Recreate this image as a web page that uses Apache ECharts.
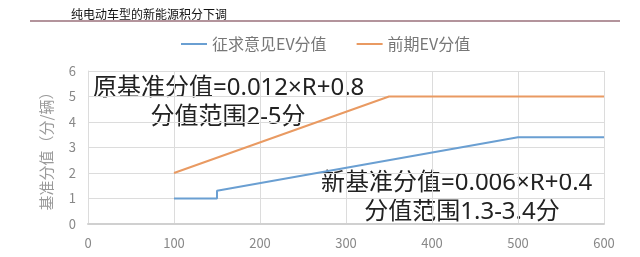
<!DOCTYPE html>
<html><head><meta charset="utf-8">
<script src="https://cdn.jsdelivr.net/npm/echarts@6/dist/echarts.min.js"></script>
<style>html,body{margin:0;padding:0;background:#fff}#c{width:640px;height:257px}</style>
</head><body><div id="c"></div>
<script>
const seriesNames = ['征求意见EV分值', '前期EV分值'];
const newX = [100, 150, 150, 500, 600];
const newY = [1, 1, 1.3, 3.4, 3.4];
const oldX = [100, 350, 600];
const oldY = [2, 5, 5];
const xTicks = [0, 100, 200, 300, 400, 500, 600];
const yTicks = [0, 1, 2, 3, 4, 5, 6];
const headerText = '纯电动车型的新能源积分下调';
const yName = '基准分值（分/辆）';
const noteOld = ['原基准分值=0.012×R+0.8', '分值范围2-5分'];
const noteNew = ['新基准分值=0.006×R+0.4', '分值范围1.3-3.4分'];

const F = '"Noto Sans CJK SC", "Noto Sans", sans-serif';
const FL = '"Noto Sans", "Noto Sans CJK SC", sans-serif';
const chart = echarts.init(document.getElementById('c'));
chart.setOption({
  animation: false,
  textStyle: { fontFamily: F },
  title: { text: headerText, left: 66, top: 3, textStyle: { fontSize: 12, fontWeight: 'normal', color: '#111', fontFamily: F } },
  legend: {
    left: 176, top: 31, itemWidth: 26, itemHeight: 2, itemGap: 30, icon: 'rect',
    textStyle: { fontSize: 16, color: '#777', fontFamily: F },
    data: seriesNames
  },
  grid: { left: 88, right: 36, top: 71, bottom: 33 },
  xAxis: {
    type: 'value', min: xTicks[0], max: xTicks[xTicks.length - 1], interval: 100,
    axisLine: { show: true, lineStyle: { color: '#d0d0d0', width: 2 } },
    axisTick: { show: false },
    axisLabel: { color: '#888', fontSize: 13, margin: 13 },
    splitLine: { show: true, lineStyle: { color: '#dcdcdc', width: 1 } }
  },
  yAxis: {
    type: 'value', min: yTicks[0], max: yTicks[yTicks.length - 1], interval: 1,
    name: yName, nameLocation: 'middle', nameGap: 34, nameRotate: 90,
    nameTextStyle: { fontSize: 15, color: '#999', fontFamily: F },
    axisLine: { show: true, lineStyle: { color: '#dcdcdc', width: 1 } },
    axisTick: { show: false },
    axisLabel: { color: '#888', fontSize: 13, margin: 12 },
    splitLine: { show: true, lineStyle: { color: '#dcdcdc', width: 1 } }
  },
  series: [
    { name: seriesNames[0], type: 'line', symbol: 'none', data: newX.map((x, i) => [x, newY[i]]),
      lineStyle: { color: '#6a9fd2', width: 2 }, itemStyle: { color: '#6a9fd2' } },
    { name: seriesNames[1], type: 'line', symbol: 'none', data: oldX.map((x, i) => [x, oldY[i]]),
      lineStyle: { color: '#e99a62', width: 2 }, itemStyle: { color: '#e99a62' } }
  ],
  graphic: [
    { type: 'line', shape: { x1: 30, y1: 21, x2: 620, y2: 21 }, style: { stroke: '#b3949c', lineWidth: 2 } },
    { type: 'text', x: 93, y: 88, style: { text: noteOld[0], font: '24px ' + FL, fill: '#222', textVerticalAlign: 'middle' } },
    { type: 'text', x: 228, y: 117, style: { text: noteOld[1], font: '24px ' + FL, fill: '#222', textAlign: 'center', textVerticalAlign: 'middle' } },
    { type: 'text', x: 321, y: 183, style: { text: noteNew[0], font: '24px ' + FL, fill: '#222', textVerticalAlign: 'middle' } },
    { type: 'text', x: 462, y: 212, style: { text: noteNew[1], font: '24px ' + FL, fill: '#222', textAlign: 'center', textVerticalAlign: 'middle' } }
  ]
});
</script></body></html>
